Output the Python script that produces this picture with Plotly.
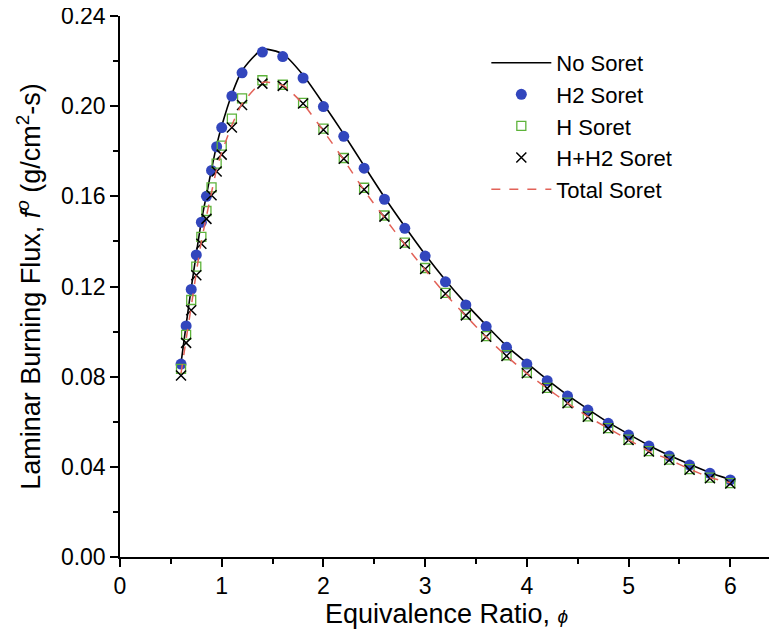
import plotly.graph_objects as go

phi = [0.6, 0.65, 0.7, 0.75, 0.8, 0.85, 0.9, 0.95, 1.0, 1.1, 1.2, 1.4, 1.6, 1.8, 2.0,
       2.2, 2.4, 2.6, 2.8, 3.0, 3.2, 3.4, 3.6, 3.8, 4.0, 4.2, 4.4, 4.6, 4.8, 5.0,
       5.2, 5.4, 5.6, 5.8, 6.0]

no_soret = [0.0860, 0.1030, 0.1192, 0.1345, 0.1490, 0.1606, 0.1720, 0.1826, 0.1912, 0.2053,
            0.2157, 0.2252, 0.2232, 0.2138, 0.2010, 0.1876, 0.1735, 0.1596, 0.1466, 0.1342,
            0.1228, 0.1124, 0.1028, 0.0936, 0.0861, 0.0787, 0.0718, 0.0656, 0.0597, 0.0545,
            0.0495, 0.0451, 0.0411, 0.0374, 0.0344]

h2_soret = [0.0856, 0.1025, 0.1187, 0.1340, 0.1485, 0.1600, 0.1715, 0.1820, 0.1905, 0.2045,
            0.2148, 0.2240, 0.2220, 0.2125, 0.1998, 0.1866, 0.1725, 0.1587, 0.1458, 0.1335,
            0.1221, 0.1118, 0.1022, 0.0930, 0.0856, 0.0782, 0.0714, 0.0652, 0.0593, 0.0541,
            0.0492, 0.0448, 0.0408, 0.0371, 0.0342]

h_soret = [0.0835, 0.0985, 0.1140, 0.1288, 0.1420, 0.1535, 0.1640, 0.1745, 0.1825, 0.1945,
           0.2035, 0.2115, 0.2095, 0.2015, 0.1900, 0.1770, 0.1638, 0.1515, 0.1395, 0.1282,
           0.1172, 0.1075, 0.0980, 0.0895, 0.0818, 0.0750, 0.0685, 0.0624, 0.0572, 0.0521,
           0.0470, 0.0432, 0.0390, 0.0352, 0.0328]

hh2_soret = [0.0805, 0.0950, 0.1095, 0.1250, 0.1390, 0.1500, 0.1605, 0.1710, 0.1785, 0.1905,
             0.2005, 0.2100, 0.2090, 0.2012, 0.1895, 0.1767, 0.1630, 0.1510, 0.1390, 0.1278,
             0.1168, 0.1072, 0.0977, 0.0892, 0.0815, 0.0748, 0.0682, 0.0622, 0.0570, 0.0519,
             0.0468, 0.0430, 0.0387, 0.0349, 0.0326]

total_soret = [0.0815, 0.0965, 0.1110, 0.1262, 0.1400, 0.1512, 0.1618, 0.1720, 0.1795, 0.1915,
               0.2010, 0.2105, 0.2092, 0.2010, 0.1890, 0.1762, 0.1627, 0.1505, 0.1386, 0.1274,
               0.1166, 0.1070, 0.0976, 0.0891, 0.0815, 0.0748, 0.0683, 0.0623, 0.0571, 0.0520,
               0.0470, 0.0432, 0.0390, 0.0353, 0.0329]

x_ticks = [0, 1, 2, 3, 4, 5, 6]
y_ticks = [0.00, 0.04, 0.08, 0.12, 0.16, 0.20, 0.24]

FONT = "Arial, Liberation Sans, sans-serif"

fig = go.Figure()
fig.add_trace(go.Scatter(x=phi, y=no_soret, mode="lines", name="No Soret",
                         line=dict(color="black", width=1.6, shape="spline", smoothing=0.6)))
fig.add_trace(go.Scatter(x=phi, y=h2_soret, mode="markers", name="H2 Soret",
                         marker=dict(symbol="circle", size=11, color="#3246bd",
                                     line=dict(width=0))))
fig.add_trace(go.Scatter(x=phi, y=h_soret, mode="markers", name="H Soret",
                         marker=dict(symbol="square-open", size=9, color="#5db33a",
                                     line=dict(width=1.3))))
fig.add_trace(go.Scatter(x=phi, y=hh2_soret, mode="markers", name="H+H2 Soret",
                         marker=dict(symbol="x-thin", size=10, color="black",
                                     line=dict(width=1.5, color="black"))))
fig.add_trace(go.Scatter(x=phi, y=total_soret, mode="lines", name="Total Soret",
                         line=dict(color="#e26258", width=1.5, dash="dash",
                                   shape="spline", smoothing=0.6)))

axis_common = dict(showgrid=False, zeroline=False, showline=True, linecolor="black",
                   linewidth=1.5, ticks="outside", ticklen=8, tickwidth=1.5,
                   tickcolor="black", tickfont=dict(family=FONT, size=23, color="black"),
                   mirror=False, automargin=False, ticklabeloverflow="allow")

fig.update_xaxes(range=[0, 6.42], tickvals=x_ticks, ticktext=[str(v) for v in x_ticks],
                 minor=dict(dtick=0.5, ticks="outside", ticklen=5, tickwidth=1.5,
                            tickcolor="black", tick0=0),
                 title=dict(text="Equivalence Ratio, <i><span style='font-size:19px'>ϕ</span></i>",
                            font=dict(family=FONT, size=27, color="black"), standoff=2),
                 **axis_common)
fig.update_yaxes(range=[0, 0.24], tickvals=y_ticks, ticktext=[f"{v:.2f}" for v in y_ticks],
                 minor=dict(dtick=0.02, ticks="outside", ticklen=5, tickwidth=1.5,
                            tickcolor="black", tick0=0),
                 title=dict(text="Laminar Burning Flux, <i>f</i><sup><i>o</i></sup> (g/cm<sup>2</sup>-s)",
                            font=dict(family=FONT, size=27, color="black"), standoff=12),
                 **axis_common)

# The page body has an 8px default margin, so the figure is 8px smaller and margins compensate.
fig.update_layout(
    width=769, height=626,
    margin=dict(l=112, r=4, t=8, b=77),
    plot_bgcolor="white", paper_bgcolor="white",
    font=dict(family=FONT, color="black"),
    legend=dict(x=0.561, y=0.952, xanchor="left", yanchor="top",
                bgcolor="rgba(0,0,0,0)", borderwidth=0,
                font=dict(family=FONT, size=22, color="black"),
                itemwidth=60, tracegroupgap=0),
    showlegend=True,
)

fig.write_html("out.html")
